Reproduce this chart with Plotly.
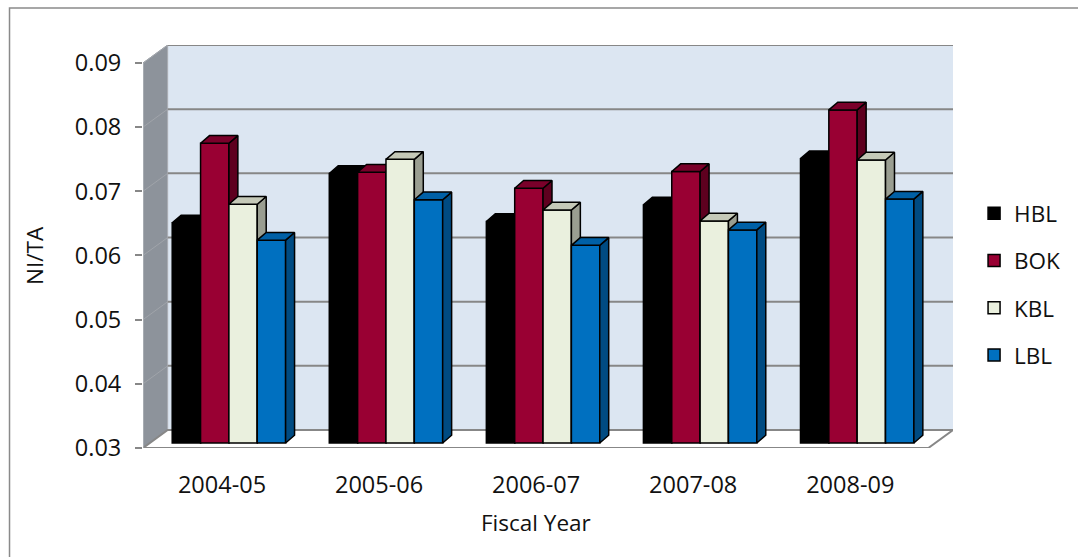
import plotly.graph_objects as go

# Fiscal years and NI/TA ratios per bank
years = ["2004-05", "2005-06", "2006-07", "2007-08", "2008-09"]
banks = ["HBL", "BOK", "KBL", "LBL"]
hbl = [0.0643, 0.0720, 0.0645, 0.0671, 0.0743]
bok = [0.0767, 0.0722, 0.0697, 0.0723, 0.0819]
kbl = [0.0672, 0.0742, 0.0663, 0.0646, 0.0741]
lbl = [0.0616, 0.0679, 0.0608, 0.0632, 0.0680]
series = [hbl, bok, kbl, lbl]

y_ticks = [0.03, 0.04, 0.05, 0.06, 0.07, 0.08, 0.09]
y_tick_text = ["0.03", "0.04", "0.05", "0.06", "0.07", "0.08", "0.09"]

# colours: front face, top face, side face
front_cols = ["#000000", "#990033", "#EAF0DE", "#0070C0"]
top_cols = ["#000000", "#7A002A", "#C5C9B8", "#0060A6"]
side_cols = ["#000000", "#5E001F", "#9A9E91", "#004B82"]

FONT = "Open Sans"
FSIZE = 22.5
TICK_FSIZE = 23.5
FLOOR = 0.03
TOP = 0.09

# 3-D box geometry (data units)
X_FRONT_L, X_FRONT_R = -0.503, 4.497   # front edge of the floor
DX, DY = 0.157, 0.0028                 # depth of the chart box
X_MAX = X_FRONT_R + DX
Y_MAX = TOP + DY
DEPTH_FRAC = 0.28                      # bars sit part-way back in the box
BAR_SHIFT_X = DEPTH_FRAC * DX
BAR_SHIFT_Y = DEPTH_FRAC * DY
BAR_W = 0.1805
BDX, BDY = 0.057, 0.0012               # depth of each bar

fig = go.Figure()

grid_col = "#878787"
shapes = []
# back wall
shapes.append(dict(type="rect", xref="x", yref="y", layer="below",
                   x0=X_FRONT_L + DX, x1=X_MAX, y0=FLOOR + DY, y1=Y_MAX,
                   fillcolor="#DCE6F2", line=dict(width=0)))
# side wall
shapes.append(dict(type="path", xref="x", yref="y", layer="below",
                   path=f"M{X_FRONT_L},{FLOOR} L{X_FRONT_L},{TOP} L{X_FRONT_L+DX},{Y_MAX} "
                        f"L{X_FRONT_L+DX},{FLOOR+DY} Z",
                   fillcolor="#8D939B", line=dict(color="#A9ADB2", width=1)))
# floor
shapes.append(dict(type="path", xref="x", yref="y", layer="below",
                   path=f"M{X_FRONT_L},{FLOOR} L{X_FRONT_L+DX},{FLOOR+DY} L{X_MAX},{FLOOR+DY} "
                        f"L{X_FRONT_R},{FLOOR} Z",
                   fillcolor="#FFFFFF", line=dict(color=grid_col, width=2)))
# gridlines on back and side walls
for v in y_ticks[1:]:
    shapes.append(dict(type="line", xref="x", yref="y", layer="below",
                       x0=X_FRONT_L + DX, x1=X_MAX, y0=v + DY, y1=v + DY,
                       line=dict(color=grid_col, width=2)))
    shapes.append(dict(type="line", xref="x", yref="y", layer="below",
                       x0=X_FRONT_L, x1=X_FRONT_L + DX, y0=v, y1=v + DY,
                       line=dict(color="#A0A4AA", width=1)))
# front value axis line
shapes.append(dict(type="line", xref="x", yref="y", layer="below",
                   x0=X_FRONT_L, x1=X_FRONT_L, y0=FLOOR, y1=TOP,
                   line=dict(color="#B4B8BD", width=1)))
# outer chart border
shapes.append(dict(type="rect", xref="paper", yref="paper",
                   x0=-0.1648, x1=1.5, y0=-0.6, y1=1.0918,
                   fillcolor="rgba(0,0,0,0)", line=dict(color="#8A8A8A", width=1.5)))

xs = list(range(len(years)))
for i, (name, vals) in enumerate(zip(banks, series)):
    yax = f"y{i+2}"
    offset = -2 * BAR_W + i * BAR_W + BAR_SHIFT_X
    fig.add_trace(go.Bar(
        x=xs, y=[v - FLOOR for v in vals], base=FLOOR, name=name,
        width=BAR_W, offset=offset, yaxis=yax, legendgroup=name,
        marker=dict(color=front_cols[i], line=dict(color="#000000", width=1.5)),
    ))
    tx, ty, sx, sy = [], [], [], []
    for xc, v in zip(xs, vals):
        x0 = xc + offset
        x1 = x0 + BAR_W
        tx += [x0, x1, x1 + BDX, x0 + BDX, x0, None]
        ty += [v, v, v + BDY, v + BDY, v, None]
        sx += [x1, x1, x1 + BDX, x1 + BDX, x1, None]
        sy += [FLOOR, v, v + BDY, FLOOR + BDY, FLOOR, None]
    fig.add_trace(go.Scatter(x=sx, y=sy, mode="lines", fill="toself",
                             fillcolor=side_cols[i], line=dict(color="#000000", width=1.5),
                             yaxis=yax, showlegend=False, hoverinfo="skip", legendgroup=name))
    fig.add_trace(go.Scatter(x=tx, y=ty, mode="lines", fill="toself",
                             fillcolor=top_cols[i], line=dict(color="#000000", width=1.5),
                             yaxis=yax, showlegend=False, hoverinfo="skip", legendgroup=name))

layout_axes = {}
for i in range(len(banks)):
    layout_axes[f"yaxis{i+2}"] = dict(overlaying="y",
                                      range=[FLOOR - BAR_SHIFT_Y, Y_MAX - BAR_SHIFT_Y],
                                      visible=False, fixedrange=True)

fig.update_layout(
    width=1078, height=557,
    margin=dict(l=143, r=116, t=45, b=109),
    paper_bgcolor="#FFFFFF", plot_bgcolor="rgba(0,0,0,0)",
    barmode="overlay",
    font=dict(family=FONT, size=FSIZE, color="#111111"),
    xaxis=dict(range=[X_FRONT_L, X_MAX], tickvals=xs, ticktext=years,
               showgrid=False, zeroline=False, showline=False, ticks="",
               tickfont=dict(size=TICK_FSIZE),
               ticklabelstandoff=20, fixedrange=True),
    yaxis=dict(range=[FLOOR, Y_MAX], tickvals=y_ticks, ticktext=y_tick_text,
               showgrid=False, zeroline=False, showline=False,
               ticks="outside", ticklen=7, tickcolor=grid_col, tickwidth=1.5,
               tickfont=dict(size=TICK_FSIZE),
               ticklabelstandoff=9, fixedrange=True),
    legend=dict(x=1.026, y=0.635, xanchor="left", yanchor="top",
                tracegroupgap=15, font=dict(size=FSIZE), bgcolor="rgba(0,0,0,0)"),
    shapes=shapes,
    annotations=[
        dict(text="Fiscal Year", xref="x", yref="paper", x=(X_FRONT_L + X_FRONT_R) / 2,
             y=-0.186, showarrow=False, xanchor="center", yanchor="middle",
             font=dict(size=FSIZE)),
        dict(text="NI/TA", xref="paper", yref="y", x=-0.134, y=0.06, textangle=-90,
             showarrow=False, xanchor="center", yanchor="middle", font=dict(size=FSIZE)),
    ],
    **layout_axes,
)

fig.write_html("out.html")
